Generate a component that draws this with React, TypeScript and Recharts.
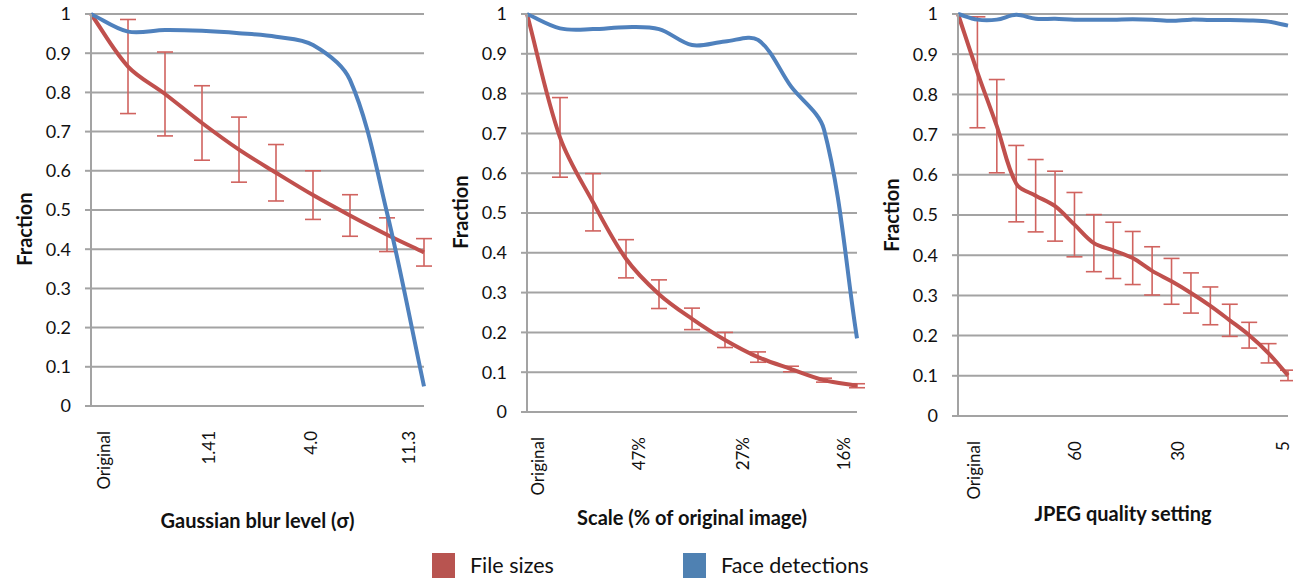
import React from "react"
import { ErrorBar, CartesianGrid, Line, LineChart, XAxis, YAxis } from "recharts"

// Panel 1: gaussian blur
const blurLevels = ["Original", "0.71", "1.0", "1.41", "2.0", "2.83", "4.0", "5.66", "8.0", "11.3"]
const blurFileSizes = [1.0, 0.866, 0.796, 0.722, 0.654, 0.595, 0.538, 0.486, 0.437, 0.392]
const blurFileErr = [0, 0.12, 0.107, 0.095, 0.083, 0.072, 0.062, 0.053, 0.043, 0.035]
const blurFaces = [1.0, 0.955, 0.959, 0.957, 0.951, 0.942, 0.921, 0.832, 0.493, 0.05]
const blurTicks = ["Original", "1.41", "4.0", "11.3"]

// Panel 2: scale
const scaleLevels = ["Original", "67%", "56%", "47%", "39%", "33%", "27%", "23%", "19%", "16%", "13%"]
const scaleFileSizes = [1.0, 0.69, 0.527, 0.385, 0.296, 0.234, 0.181, 0.138, 0.108, 0.08, 0.066]
const scaleFileErr = [0, 0.1, 0.072, 0.048, 0.036, 0.027, 0.019, 0.013, 0.007, 0.005, 0.005]
const scaleFaces = [1.0, 0.964, 0.962, 0.967, 0.962, 0.922, 0.931, 0.935, 0.818, 0.71, 0.185]
const scaleTicks = ["Original", "47%", "27%", "16%"]

// Panel 3: JPEG quality
const jpegLevels = ["Original", "85", "80", "75", "70", "65", "60", "55", "50", "45", "40", "35", "30", "25", "20", "15", "10", "5"]
const jpegFileSizes = [1.0, 0.855, 0.721, 0.578, 0.548, 0.522, 0.476, 0.43, 0.412, 0.393, 0.361, 0.335, 0.306, 0.274, 0.238, 0.201, 0.156, 0.101]
const jpegFileErr = [0, 0.138, 0.116, 0.095, 0.09, 0.087, 0.08, 0.071, 0.07, 0.066, 0.06, 0.057, 0.05, 0.047, 0.04, 0.032, 0.024, 0.013]
const jpegFaces = [1.0, 0.986, 0.986, 0.998, 0.988, 0.988, 0.986, 0.986, 0.986, 0.987, 0.986, 0.983, 0.986, 0.985, 0.985, 0.984, 0.981, 0.971]
const jpegTicks = ["Original", "60", "30", "5"]

const yTicks = [0, 0.1, 0.2, 0.3, 0.4, 0.5, 0.6, 0.7, 0.8, 0.9, 1]

const RED = "#c0504d"
const RED_ERR = "#d0635f"
const BLUE = "#4f81bd"
const GRID = "#a3a3a3"
const FONT = "Lato, 'Open Sans', sans-serif"

// smooth curve roughly like Excel's "smoothed line" (chord-weighted tangents)
function excelCurve(context: any) {
  let pts: number[][] = []
  const dist = (a: number[], b: number[]) => Math.hypot(b[0] - a[0], b[1] - a[1])
  return {
    areaStart() {},
    areaEnd() {},
    lineStart() {
      pts = []
    },
    point(x: number, y: number) {
      pts.push([+x, +y])
    },
    lineEnd() {
      if (!pts.length) return
      context.moveTo(pts[0][0], pts[0][1])
      for (let i = 0; i < pts.length - 1; i++) {
        const p0 = pts[Math.max(i - 1, 0)]
        const p1 = pts[i]
        const p2 = pts[i + 1]
        const p3 = pts[Math.min(i + 2, pts.length - 1)]
        const d01 = dist(p0, p1)
        const d12 = dist(p1, p2)
        const d23 = dist(p2, p3)
        const f1 = d01 + d12 > 0 ? d12 / (d01 + d12) / 3 : 0
        const f2 = d12 + d23 > 0 ? d12 / (d12 + d23) / 3 : 0
        context.bezierCurveTo(
          p1[0] + (p2[0] - p0[0]) * f1,
          p1[1] + (p2[1] - p0[1]) * f1,
          p2[0] - (p3[0] - p1[0]) * f2,
          p2[1] - (p3[1] - p1[1]) * f2,
          p2[0],
          p2[1]
        )
      }
    },
  }
}

function makeTick(shifts: number[]) {
  return function RotatedTick(props: any) {
    const { x, y, payload, index } = props
    const tx = x + (shifts[index] || 0)
    const ty = y + 17
    return (
      <text
        x={tx}
        y={ty}
        transform={`rotate(-90, ${tx}, ${ty})`}
        textAnchor="end"
        dominantBaseline="central"
        fontSize={17}
        fontFamily={FONT}
        fill="#111"
      >
        {payload.value}
      </text>
    )
  }
}

type PanelProps = {
  left: number
  width: number
  yAxisWidth: number
  plotBottom: number
  rightMargin: number
  categories: string[]
  fileSizes: number[]
  fileErr: number[]
  faces: number[]
  ticks: string[]
  tickShifts: number[]
  title: string
  titleY: number
  fractionY: number
}

function Panel(p: PanelProps) {
  const height = 540
  const xAxisHeight = height - 4 - p.plotBottom
  const data = p.categories.map((c, i) => ({
    name: c,
    file: p.fileSizes[i],
    fileErr: p.fileErr[i],
    face: p.faces[i],
  }))
  const Tick = makeTick(p.tickShifts)
  return (
    <div style={{ position: "absolute", left: p.left, top: 0 }}>
      <LineChart
        width={p.width}
        height={height}
        data={data}
        margin={{ top: 14, right: p.rightMargin, bottom: 4, left: 0 }}
      >
        <CartesianGrid vertical={false} stroke={GRID} strokeWidth={2} />
        <XAxis
          dataKey="name"
          type="category"
          ticks={p.ticks}
          interval={0}
          height={xAxisHeight}
          tick={<Tick />}
          tickLine={false}
          axisLine={{ stroke: GRID, strokeWidth: 2 }}
          label={{
            content: (lp: any) => {
              const vb = lp.viewBox
              return (
                <text
                  x={vb.x + vb.width / 2}
                  y={p.titleY}
                  textAnchor="middle"
                  dominantBaseline="central"
                  fontSize={20}
                  fontWeight="bold"
                  fontFamily={FONT}
                  fill="#111"
                >
                  {p.title}
                </text>
              )
            },
          }}
        />
        <YAxis
          type="number"
          domain={[0, 1]}
          ticks={yTicks}
          width={p.yAxisWidth}
          tickSize={6}
          tickMargin={14}
          tickLine={{ stroke: GRID, strokeWidth: 2 }}
          axisLine={{ stroke: GRID, strokeWidth: 2 }}
          tick={{ fontSize: 18, fontFamily: FONT, fill: "#111" }}
          label={{
            content: (lp: any) => {
              const vb = lp.viewBox
              const cx = vb.x + vb.width - 67
              return (
                <text
                  x={cx}
                  y={p.fractionY}
                  transform={`rotate(-90, ${cx}, ${p.fractionY})`}
                  textAnchor="middle"
                  dominantBaseline="central"
                  fontSize={20}
                  fontWeight="bold"
                  fontFamily={FONT}
                  fill="#111"
                >
                  Fraction
                </text>
              )
            },
          }}
        />
        <Line
          dataKey="file"
          type={excelCurve as any}
          stroke={RED}
          strokeWidth={4}
          dot={false}
          isAnimationActive={false}
        >
          <ErrorBar dataKey="fileErr" direction="y" width={8} stroke={RED_ERR} strokeWidth={1.6} />
        </Line>
        <Line
          dataKey="face"
          type={excelCurve as any}
          stroke={BLUE}
          strokeWidth={4}
          dot={false}
          isAnimationActive={false}
        />
      </LineChart>
    </div>
  )
}

function LegendItem({ left, color, text }: { left: number; color: string; text: string }) {
  return (
    <div style={{ position: "absolute", left, top: 553, display: "flex", alignItems: "center" }}>
      <div style={{ width: 23, height: 25, background: color }} />
      <span style={{ marginLeft: 15, fontSize: 21.5, fontFamily: FONT, color: "#111", lineHeight: "25px" }}>{text}</span>
    </div>
  )
}

export default function App() {
  return (
    <div style={{ position: "absolute", left: 0, top: 0, width: 1293, height: 580, background: "#fff", overflow: "hidden" }}>
      <Panel
        left={0}
        width={440}
        yAxisWidth={91}
        plotBottom={406}
        rightMargin={16}
        categories={blurLevels}
        fileSizes={blurFileSizes}
        fileErr={blurFileErr}
        faces={blurFaces}
        ticks={blurTicks}
        tickShifts={[12, 6, -3, -16]}
        title="Gaussian blur level (σ)"
        titleY={520}
        fractionY={229}
      />
      <Panel
        left={440}
        width={430}
        yAxisWidth={87}
        plotBottom={412}
        rightMargin={13}
        categories={scaleLevels}
        fileSizes={scaleFileSizes}
        fileErr={scaleFileErr}
        faces={scaleFaces}
        ticks={scaleTicks}
        tickShifts={[10, 12, 17, 19]}
        title="Scale (% of original image)"
        titleY={517}
        fractionY={212}
      />
      <Panel
        left={870}
        width={423}
        yAxisWidth={88}
        plotBottom={416}
        rightMargin={5}
        categories={jpegLevels}
        fileSizes={jpegFileSizes}
        fileErr={jpegFileErr}
        faces={jpegFaces}
        ticks={jpegTicks}
        tickShifts={[15, 0, -13, -6]}
        title="JPEG quality setting"
        titleY={513}
        fractionY={215}
      />
      <LegendItem left={432} color="#b85450" text="File sizes" />
      <LegendItem left={683} color="#4f81b2" text="Face detections" />
    </div>
  )
}
